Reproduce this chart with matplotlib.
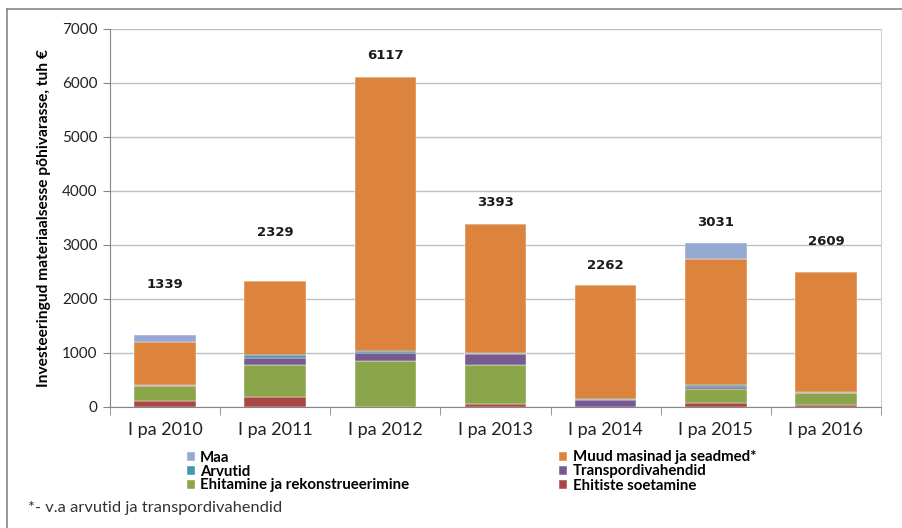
import matplotlib
matplotlib.use('Agg')
import matplotlib.pyplot as plt
from matplotlib.lines import Line2D
import numpy as np

plt.rcParams['font.family'] = ['Lato', 'DejaVu Sans']

# andmed (tuh €), loetud jooniselt
periods = ['I pa 2010', 'I pa 2011', 'I pa 2012', 'I pa 2013', 'I pa 2014', 'I pa 2015', 'I pa 2016']
ehitiste_soetamine = [106, 181, 0, 50, 0, 81, 31]
ehitamine = [288, 588, 844, 719, 0, 250, 231]
transport = [5, 138, 156, 206, 125, 44, 19]
arvutid = [0, 62, 31, 25, 20, 31, 0]
muud_masinad = [800, 1360, 5086, 2393, 2117, 2334, 2213]
maa = [140, 0, 0, 0, 0, 291, 0]
totals = [1339, 2329, 6117, 3393, 2262, 3031, 2609]
# sildi nihe tulba kohal (punktides), Excelis käsitsi paigutatud
label_offset = [36, 35, 15, 15, 14, 15, 18]

series = [
    ('Ehitiste soetamine', ehitiste_soetamine, '#A94744'),
    ('Ehitamine ja rekonstrueerimine', ehitamine, '#8BA54B'),
    ('Transpordivahendid', transport, '#775A92'),
    ('Arvutid', arvutid, '#4198AF'),
    ('Muud masinad ja seadmed*', muud_masinad, '#DC843D'),
    ('Maa', maa, '#95A9D3'),
]

fig = plt.figure(figsize=(9.02, 5.28), dpi=100)
ax = fig.add_axes([110/902, 1-407/528, (881-110)/902, (407-29)/528])

x = np.arange(len(periods))
bottom = np.zeros(len(periods))
handles = {}
for name, vals, col in series:
    vals = np.array(vals, dtype=float)
    b = ax.bar(x, vals, 0.56, bottom=bottom, color=col, edgecolor='white', linewidth=0.3, zorder=3, label=name)
    handles[name] = b
    bottom += vals

for xi, t, off in zip(x, totals, label_offset):
    ax.annotate(str(t), (xi, t), xytext=(0, off), textcoords='offset points',
                ha='center', va='center', fontsize=9.5, fontweight='bold', color='#1a1a1a',
                family='DejaVu Sans')

ax.set_xlim(-0.5, len(periods)-0.5)
ax.set_ylim(0, 7000)
ax.set_yticks(range(0, 7001, 1000))
ax.yaxis.grid(True, color='#BFBFBF', linewidth=1, zorder=0)
ax.set_axisbelow(True)
ax.tick_params(axis='y', length=5, color='#868686', labelsize=11, pad=4, labelcolor='#222222')

ax.set_xticks(x)
ax.set_xticklabels(periods, fontsize=13, color='#222222')
ax.tick_params(axis='x', length=0, pad=11)
ax.set_xticks(np.arange(-0.5, len(periods)), minor=True)
ax.tick_params(axis='x', which='minor', length=6, color='#868686')

ax.spines['top'].set_visible(False)
ax.spines['left'].set_color('#868686')
ax.spines['bottom'].set_color('#868686')
ax.spines['right'].set_color('#D0D0D0')

ax.set_ylabel('Investeeringud materiaalsesse põhivarasse, tuh €', fontsize=11.2, fontweight='bold', labelpad=8)

# legend: kaks veergu
order = ['Maa', 'Arvutid', 'Ehitamine ja rekonstrueerimine',
         'Muud masinad ja seadmed*', 'Transpordivahendid', 'Ehitiste soetamine']
leg = fig.legend([handles[n] for n in order], order, ncol=2, loc='upper left',
                 bbox_to_anchor=(179/902, 1-443/528), frameon=False,
                 prop={'size': 10.8, 'weight': 'bold'}, handlelength=0.55, handleheight=0.55,
                 handletextpad=0.35, labelspacing=0.0, columnspacing=10.0, borderpad=0)

fig.text(28/902, 1-508/528, '*- v.a arvutid ja transpordivahendid', fontsize=11.8, va='center', color='#333333')

# välimine raam
fig.add_artist(Line2D([7/902, 7/902], [0, 1-9/528], transform=fig.transFigure, color='#888888', linewidth=1.2))
fig.add_artist(Line2D([7/902, 1], [1-9/528, 1-9/528], transform=fig.transFigure, color='#888888', linewidth=1.2))

fig.savefig('out.png', dpi=100)
